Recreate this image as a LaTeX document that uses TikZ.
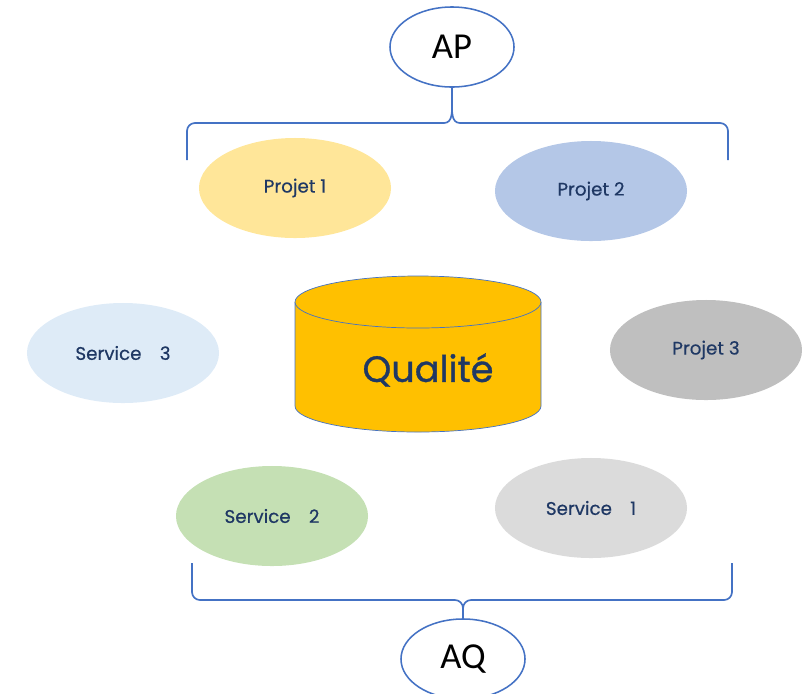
\documentclass[tikz,border=0pt]{standalone}
\usepackage{fontspec}
\setmainfont{Poppins}
\newfontfamily\lblfont[FakeBold=0.5]{Poppins}
\newfontfamily\cuvefont[FakeBold=0.9]{Poppins}
\newfontfamily\capfont{Carlito}
\usetikzlibrary{shapes.geometric}
\definecolor{linkblue}{HTML}{4472C4}
\definecolor{navy}{HTML}{1F3864}
\definecolor{pjaune}{HTML}{FFE699}
\definecolor{pbleu}{HTML}{B4C7E7}
\definecolor{pgris}{HTML}{BFBFBF}
\definecolor{sbleu}{HTML}{DEEBF7}
\definecolor{svert}{HTML}{C5E0B4}
\definecolor{sgris}{HTML}{DBDBDB}
\definecolor{cuve}{HTML}{FFC000}
\begin{document}
\begin{tikzpicture}[x=0.025cm,y=0.025cm]
    \tikzset{bulle/.style={ellipse,minimum width=4.8cm,minimum height=2.5cm,inner sep=0pt,text=navy,font=\lblfont\fontsize{13}{15}\selectfont},
             pole/.style={ellipse,draw=linkblue,line width=1.1pt,minimum width=3.1cm,minimum height=2cm,inner sep=0pt,font=\capfont\fontsize{26}{30}\selectfont},
             brace/.style={draw=linkblue,line width=1.2pt}};
    \useasboundingbox (0,0) rectangle (802,-693);
    % la cuve
    \fill[cuve] (295,-302) -- (295,-406) arc[start angle=180,end angle=360,x radius=123,y radius=26] -- (541,-302) -- cycle;
    \draw[linkblue,line width=0.5pt] (295,-302) -- (295,-406) arc[start angle=180,end angle=360,x radius=123,y radius=26] -- (541,-302);
    \draw[linkblue,line width=0.5pt,fill=cuve] (418,-302) ellipse[x radius=123,y radius=26];
    \node[text=navy,font=\cuvefont\fontsize{26}{30}\selectfont] (qualite) at (428,-370) {Qualité};
    % projets et services
    \node[bulle,fill=pjaune] (p1) at (295,-188) {Projet 1};
    \node[bulle,fill=pbleu] (p2) at (591,-191) {Projet 2};
    \node[bulle,fill=pgris] (p3) at (706,-350) {Projet 3};
    \node[bulle,fill=sbleu] (s3) at (123,-353) {Service\hspace{1em}3};
    \node[bulle,fill=svert] (s2) at (272,-516) {Service\hspace{1em}2};
    \node[bulle,fill=sgris] (s1) at (591,-508) {Service\hspace{1em}1};
    % AP et AQ
    \node[pole] (AP) at (452,-47) {AP};
    \node[pole] (AQ) at (463,-659) {AQ};
    \draw[brace] (AP.south) -- ++(0,-13) coordinate (aptip);
    \draw[brace] (187,-160) -- (187,-131) to[out=90,in=180] (195,-123) -- (444,-123) to[out=0,in=-90] (aptip)
        to[out=-90,in=180] (460,-123) -- (720,-123) to[out=0,in=90] (728,-131) -- (728,-160);
    \draw[brace] (AQ.north) -- ++(0,10) coordinate (aqtip);
    \draw[brace] (192,-563) -- (192,-592) to[out=-90,in=180] (200,-600) -- (455,-600) to[out=0,in=90] (aqtip)
        to[out=90,in=180] (471,-600) -- (724,-600) to[out=0,in=-90] (732,-592) -- (732,-563);
\end{tikzpicture}
\end{document}
